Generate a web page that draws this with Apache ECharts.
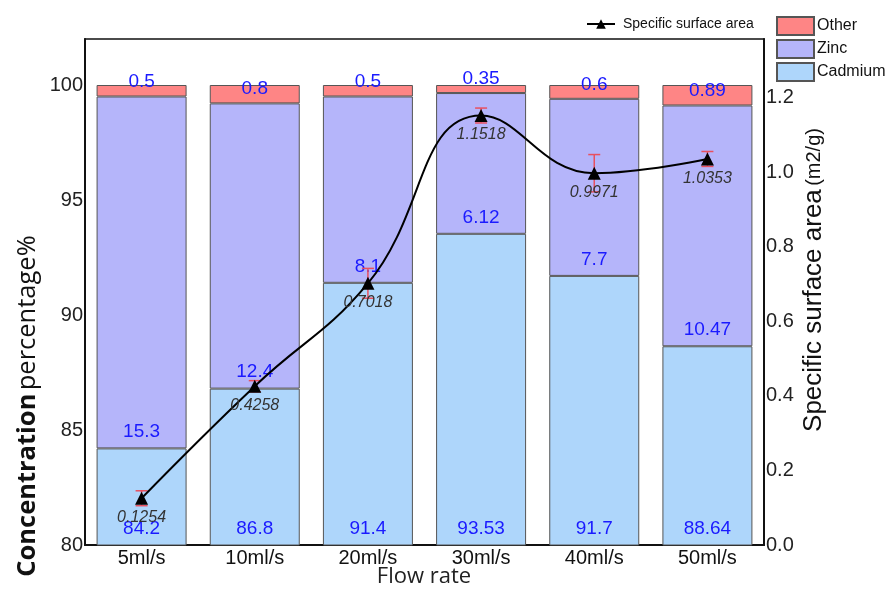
<!DOCTYPE html>
<html>
<head>
<meta charset="utf-8">
<script src="https://cdn.jsdelivr.net/npm/echarts@6/dist/echarts.min.js"></script>
<style>
  html, body { margin: 0; padding: 0; background: #fff; }
  #chart { width: 891px; height: 590px; }
</style>
</head>
<body>
<div id="chart"></div>
<script>
// Flow-rate categories
const flowRates = ['5ml/s', '10ml/s', '20ml/s', '30ml/s', '40ml/s', '50ml/s'];

// Composition of the deposit (%), stacked bottom to top
const cadmium = [84.2, 86.8, 91.4, 93.53, 91.7, 88.64];
const zinc = [15.3, 12.4, 8.1, 6.12, 7.7, 10.47];
const other = [0.5, 0.8, 0.5, 0.35, 0.6, 0.89];

// Specific surface area (m2/g) with its error
const surfaceArea = [0.1254, 0.4258, 0.7018, 1.1518, 0.9971, 1.0353];
const surfaceErr = [0.02, 0.015, 0.04, 0.02, 0.05, 0.02];

// Axis ranges
const leftTicks = { min: 80, max: 102, interval: 5 };
const rightTicks = { min: 0, max: 1.357, interval: 0.2 };

const labelFont = '"Liberation Sans", Arial, sans-serif';
const titleFont = '"Open Sans", "Noto Sans", sans-serif';
const blue = '#1a1aff';
const barBorder = { borderColor: '#555', borderWidth: 1 };

const chart = echarts.init(document.getElementById('chart'), null, { renderer: 'canvas' });

function barSeries(name, data, color, labelDist) {
  return {
    name: name,
    type: 'bar',
    stack: 'comp',
    barWidth: 90,
    data: data,
    itemStyle: Object.assign({ color: color }, barBorder),
    label: {
      show: true,
      position: 'insideBottom',
      distance: labelDist,
      color: blue,
      fontSize: 19,
      fontFamily: labelFont
    },
    z: 2
  };
}

const errData = surfaceArea.map((v, i) => [i, v, surfaceErr[i]]);

const option = {
  backgroundColor: '#fff',
  animation: false,
  grid: { left: 85, right: 127, top: 39, bottom: 45, show: true, borderColor: '#111', borderWidth: 1.5, backgroundColor: 'transparent' },
  legend: [
    {
      data: ['Specific surface area'],
      left: 586, top: 17, padding: 0,
      itemWidth: 28, itemHeight: 12, itemGap: 4,
      textStyle: { fontSize: 14, fontFamily: labelFont, color: '#111', padding: [0, 0, 0, 3] }
    },
    {
      data: ['Other', 'Zinc', 'Cadmium'],
      orient: 'vertical',
      icon: 'rect',
      left: 776, top: 16, padding: 0,
      itemWidth: 37, itemHeight: 18, itemGap: 3,
      textStyle: { fontSize: 16, fontFamily: labelFont, color: '#111', padding: [0, 0, 0, -2] }
    }
  ],
  xAxis: {
    type: 'category',
    data: flowRates,
    axisLine: { lineStyle: { color: '#111', width: 2 } },
    axisTick: { show: false },
    axisLabel: { fontSize: 20, fontFamily: labelFont, color: '#111', margin: 3 }
  },
  yAxis: [
    {
      type: 'value',
      min: leftTicks.min, max: leftTicks.max, interval: leftTicks.interval,
      axisLine: { show: true, lineStyle: { color: '#111', width: 2 } },
      axisTick: { show: false },
      splitLine: { show: false },
      axisLabel: { fontSize: 20, fontFamily: labelFont, color: '#222', margin: 2, showMaxLabel: false }
    },
    {
      type: 'value',
      position: 'right',
      min: rightTicks.min, max: rightTicks.max, interval: rightTicks.interval,
      axisLine: { show: true, lineStyle: { color: '#111', width: 2 } },
      axisTick: { show: false },
      splitLine: { show: false },
      axisLabel: {
        fontSize: 20, fontFamily: labelFont, color: '#222', margin: 2, showMaxLabel: false,
        formatter: v => v.toFixed(1)
      }
    }
  ],
  series: [
    barSeries('Cadmium', cadmium, '#aed6fb', 7),
    barSeries('Zinc', zinc, '#b5b5fa', 7),
    barSeries('Other', other, '#fe8585', 5),
    {
      name: 'errors',
      type: 'custom',
      yAxisIndex: 1,
      data: errData,
      z: 4,
      renderItem: function (params, api) {
        const x = api.value(0), v = api.value(1), e = api.value(2);
        const top = api.coord([x, v + e]);
        const bot = api.coord([x, v - e]);
        const hw = 6;
        const st = { stroke: '#e8505f', lineWidth: 1.5 };
        return {
          type: 'group',
          children: [
            { type: 'line', shape: { x1: top[0], y1: top[1], x2: bot[0], y2: bot[1] }, style: st },
            { type: 'line', shape: { x1: top[0] - hw, y1: top[1], x2: top[0] + hw, y2: top[1] }, style: st },
            { type: 'line', shape: { x1: bot[0] - hw, y1: bot[1], x2: bot[0] + hw, y2: bot[1] }, style: st }
          ]
        };
      }
    },
    {
      name: 'Specific surface area',
      type: 'line',
      yAxisIndex: 1,
      data: surfaceArea,
      smooth: 0.45,
      symbol: 'triangle',
      symbolSize: 13,
      lineStyle: { color: '#000', width: 2 },
      itemStyle: { color: '#000' },
      label: {
        show: true,
        position: 'bottom',
        distance: 5,
        fontSize: 16,
        fontStyle: 'italic',
        fontFamily: labelFont,
        color: '#333',
        formatter: p => p.value.toFixed(4)
      },
      z: 5
    }
  ],
  graphic: [
    {
      type: 'text',
      x: 28, y: 406,
      rotation: Math.PI / 2,
      style: {
        text: '{b|Concentration} {n|percentage%}',
        align: 'center', verticalAlign: 'middle',
        rich: {
          b: { fontSize: 25.5, fontWeight: 'bold', fontFamily: titleFont, fill: '#111' },
          n: { fontSize: 25.5, fontFamily: titleFont, fill: '#111' }
        }
      }
    },
    {
      type: 'text',
      x: 814, y: 280,
      rotation: Math.PI / 2,
      style: {
        text: '{a|Specific surface area} {u|(m2/g)}',
        align: 'center', verticalAlign: 'middle',
        rich: {
          a: { fontSize: 26, fontFamily: labelFont, fill: '#111' },
          u: { fontSize: 20, fontFamily: labelFont, fill: '#111' }
        }
      }
    },
    {
      type: 'text',
      x: 424, y: 577,
      style: {
        text: 'Flow rate',
        align: 'center', verticalAlign: 'middle',
        fontSize: 22, fontFamily: titleFont, fill: '#222'
      }
    }
  ]
};

chart.setOption(option);
</script>
</body>
</html>
